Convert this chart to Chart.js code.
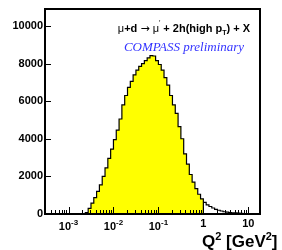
<!DOCTYPE html>
<html>
<head>
<meta charset="utf-8">
<script src="https://cdn.jsdelivr.net/npm/chart.js@4.4.1/dist/chart.umd.min.js"></script>
<style>
  html, body { margin: 0; padding: 0; background: #fff; }
  #wrap { width: 282px; height: 250px; }
</style>
</head>
<body>
<div id="wrap"><canvas id="q2Chart" width="282" height="250"></canvas></div>
<script>
// Q2 histogram, 16 log bins per decade
const binsPerDecade = 16;
const firstEdgeLog = -2.625;          // log10 of first bin low edge
const filledCounts = [80, 300, 580, 870, 1200, 1550, 2000, 2450, 2960, 3450,
  3950, 4460, 5050, 5800, 6300, 6730, 7050, 7400, 7650, 7850,
  8000, 8150, 8300, 8420, 8400, 8150, 7950, 7650, 7250, 6850,
  6300, 5800, 5350, 4650, 4000, 3200, 2650, 2100, 1700, 1350,
  1050, 800];
// tail above Q2 = 1 (not filled)
const tailCounts = [620, 490, 400, 320, 250, 200, 160, 120, 100, 80, 65, 55, 45, 35, 20, 10];

const xMin = 3.03e-4, xMax = 18.2;
const yMin = 0, yMax = 10900;
const yTicks = [0, 2000, 4000, 6000, 8000, 10000];
const xMajorTicks = [1e-3, 1e-2, 1e-1, 1, 10];
const xTickBase = ["10", "10", "10", "1", "10"];
const xTickSup = ["-3", "-2", "-1", "", ""];

function histPoints(counts, startLog) {
  const pts = [];
  const edge = i => Math.pow(10, startLog + i / binsPerDecade);
  pts.push({ x: edge(0), y: 0 });
  counts.forEach((c, i) => pts.push({ x: edge(i), y: c }));
  pts.push({ x: edge(counts.length), y: counts[counts.length - 1] });
  pts.push({ x: edge(counts.length), y: 0 });
  return pts;
}

const filledLog = firstEdgeLog;
const tailLog = firstEdgeLog + filledCounts.length / binsPerDecade;

// draw a string made of pieces (for super/subscripts)
function richWidth(ctx, parts) {
  let w = 0;
  parts.forEach(p => { ctx.font = p.font; w += ctx.measureText(p.t).width; });
  return w;
}
function drawRich(ctx, x, y, parts, color) {
  let cx = x;
  ctx.fillStyle = color || "#000";
  ctx.textBaseline = "alphabetic";
  ctx.textAlign = "left";
  parts.forEach(p => {
    ctx.font = p.font;
    ctx.fillText(p.t, cx, y + (p.dy || 0));
    cx += ctx.measureText(p.t).width;
  });
}

const frame = {
  id: "frame",
  afterDraw(chart) {
    const ctx = chart.ctx;
    const a = chart.chartArea;
    const xs = chart.scales.x, ys = chart.scales.y;
    ctx.save();
    ctx.strokeStyle = "#000";

    // x ticks, pointing up into the frame
    ctx.lineWidth = 1;
    ctx.beginPath();
    for (let k = -4; k <= 1; k++) {
      for (let m = 1; m <= 9; m++) {
        const v = m * Math.pow(10, k);
        if (v < xMin || v > xMax) continue;
        const px = Math.round(xs.getPixelForValue(v)) + 0.5;
        const len = m === 1 ? 7 : 4;
        ctx.moveTo(px, a.bottom);
        ctx.lineTo(px, a.bottom - len);
      }
    }
    // y ticks, pointing right into the frame
    yTicks.forEach(v => {
      const py = Math.round(ys.getPixelForValue(v)) + 0.5;
      ctx.moveTo(a.left, py);
      ctx.lineTo(a.left + 6, py);
    });
    ctx.stroke();

    // frame
    ctx.lineWidth = 2;
    ctx.strokeRect(a.left, a.top, a.right - a.left, a.bottom - a.top);

    // x tick labels
    xMajorTicks.forEach((v, i) => {
      const parts = [{ t: xTickBase[i], font: "bold 11px 'Liberation Sans'" }];
      if (xTickSup[i]) parts.push({ t: xTickSup[i], font: "bold 8px 'Liberation Sans'", dy: -5 });
      const w = richWidth(ctx, parts);
      const px = xs.getPixelForValue(v);
      const base = xTickSup[i] ? 230 : 227;
      drawRich(ctx, px - w / 2, base, parts);
    });

    // axis title
    drawRich(ctx, 202, 247, [
      { t: "Q", font: "bold 17px 'Liberation Sans'" },
      { t: "2", font: "bold 11px 'Liberation Sans'", dy: -7 },
      { t: " [GeV", font: "bold 17px 'Liberation Sans'" },
      { t: "2", font: "bold 11px 'Liberation Sans'", dy: -7 },
      { t: "]", font: "bold 17px 'Liberation Sans'" }
    ]);

    // reaction label
    const line1 = [
      { t: "\u03bc", font: "11px 'Liberation Sans'" },
      { t: "+d ", font: "bold 11px 'Liberation Sans'" },
      { t: "\u2192", font: "11px 'DejaVu Sans'" },
      { t: " \u03bc", font: "11px 'Liberation Sans'" },
      { t: "\u2032", font: "7px 'Liberation Sans'", dy: -7 },
      { t: " + 2h(high p", font: "bold 11px 'Liberation Sans'" },
      { t: "T", font: "bold 7px 'Liberation Sans'", dy: 3 },
      { t: ") + X", font: "bold 11px 'Liberation Sans'" }
    ];
    drawRich(ctx, 184 - richWidth(ctx, line1) / 2, 32, line1);

    const line2 = [{ t: "COMPASS preliminary", font: "italic 13px 'Liberation Serif'" }];
    drawRich(ctx, 184 - richWidth(ctx, line2) / 2, 51, line2, "#3333ff");

    ctx.restore();
  }
};

new Chart(document.getElementById("q2Chart"), {
  type: "line",
  data: {
    datasets: [
      {
        data: histPoints(filledCounts, filledLog),
        stepped: true,
        borderColor: "#000",
        borderWidth: 1.2,
        backgroundColor: "#ffff00",
        fill: "origin",
        pointRadius: 0
      },
      {
        data: histPoints(tailCounts, tailLog).slice(1),
        stepped: true,
        borderColor: "#000",
        borderWidth: 1.2,
        fill: false,
        pointRadius: 0
      }
    ]
  },
  options: {
    responsive: false,
    animation: false,
    devicePixelRatio: 1,
    layout: { padding: { top: 9, right: 22, left: 0, bottom: 0 } },
    plugins: { legend: { display: false }, tooltip: { enabled: false } },
    scales: {
      x: {
        type: "logarithmic",
        min: xMin,
        max: xMax,
        ticks: { display: false },
        grid: { display: false },
        border: { display: false },
        afterFit: s => { s.height = 36; }
      },
      y: {
        type: "linear",
        min: yMin,
        max: yMax,
        afterBuildTicks: s => { s.ticks = yTicks.map(v => ({ value: v })); },
        ticks: {
          color: "#000",
          padding: 2,
          callback: v => String(v),
          font: { family: "'Liberation Sans'", size: 11, weight: "bold" }
        },
        grid: { display: false, drawTicks: false },
        border: { display: false },
        afterFit: s => { s.width = 45; }
      }
    }
  },
  plugins: [frame]
});
</script>
</body>
</html>
